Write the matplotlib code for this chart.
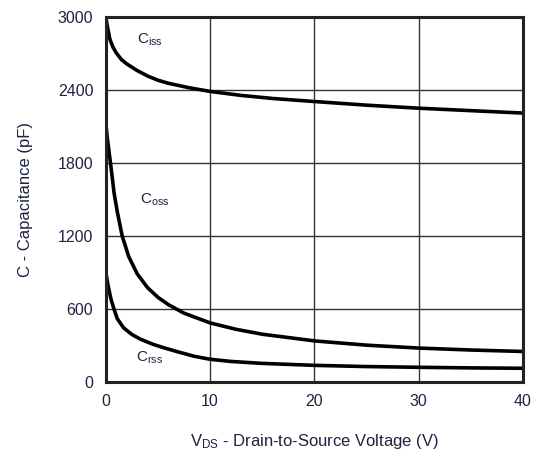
import matplotlib
matplotlib.use('Agg')
import matplotlib.pyplot as plt

plt.rcParams['font.family'] = ['Liberation Sans', 'DejaVu Sans']
plt.rcParams['mathtext.default'] = 'regular'

# capacitance vs drain-source voltage
v_iss = [0, 0.2, 0.4, 0.7, 1, 1.5, 2, 3, 4, 5, 6, 8, 10, 13, 16, 20, 25, 30, 35, 40]
c_iss = [3000, 2900, 2815, 2750, 2705, 2650, 2615, 2560, 2515, 2480, 2455, 2418, 2388,
         2355, 2330, 2305, 2275, 2250, 2230, 2210]

v_oss = [0, 0.15, 0.45, 0.8, 1.1, 1.57, 2.2, 3, 4, 5, 6, 7.5, 10, 12.5, 15, 20, 25, 30, 35, 40]
c_oss = [2130, 2000, 1800, 1550, 1400, 1200, 1030, 890, 775, 695, 635, 565, 485, 432,
         392, 337, 302, 278, 262, 250]

v_rss = [0, 0.2, 0.5, 0.8, 1.1, 1.7, 2.5, 3.3, 4.5, 5.5, 7, 8.5, 10, 12, 15, 20, 25, 30, 35, 40]
c_rss = [900, 800, 680, 595, 520, 445, 390, 352, 310, 282, 245, 210, 186, 168, 152, 136,
         126, 120, 115, 112]

txt = '#1e2340'

fig = plt.figure(figsize=(5.37, 4.59), dpi=100)
ax = fig.add_axes([0.197, 0.168, 0.777, 0.795])

for v, c in [(v_iss, c_iss), (v_oss, c_oss), (v_rss, c_rss)]:
    ax.plot(v, c, color='black', lw=2.6, solid_capstyle='round', solid_joinstyle='round')

ax.set_xlim(0, 40)
ax.set_ylim(0, 3000)
ax.set_xticks([0, 10, 20, 30, 40])
ax.set_yticks([0, 600, 1200, 1800, 2400, 3000])
ax.grid(True, color='#333333', lw=1.0)
ax.tick_params(length=0, pad=9, labelsize=11.5, labelcolor=txt)
for s in ax.spines.values():
    s.set_linewidth(2.2)
    s.set_color('#222222')

ax.text(4.2, 2810, 'C$_{iss}$', fontsize=11, color=txt, ha='center', va='center')
ax.text(4.7, 1500, 'C$_{oss}$', fontsize=11, color=txt, ha='center', va='center')
ax.text(4.2, 200, 'C$_{rss}$', fontsize=11, color=txt, ha='center', va='center')

ax.set_xlabel('V$_{DS}$ - Drain-to-Source Voltage (V)', fontsize=12, color=txt, labelpad=16)
ax.set_ylabel('C - Capacitance (pF)', fontsize=12, color=txt, labelpad=18)

fig.savefig('out.png', dpi=100)
